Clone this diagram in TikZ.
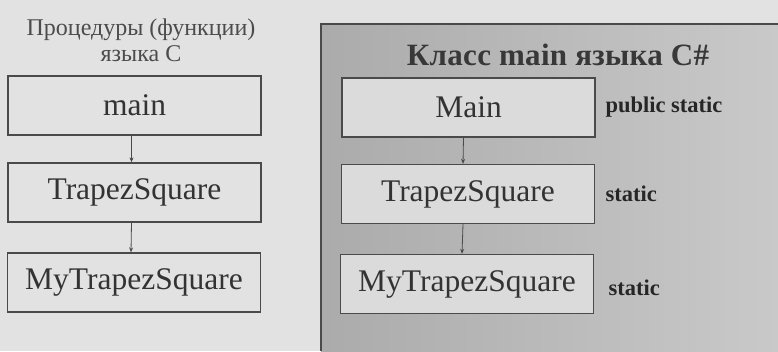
\documentclass[tikz,border=0pt]{standalone}
\usepackage{fontspec}
\setmainfont{Liberation Serif}
\usetikzlibrary{arrows.meta}
\definecolor{pagebg}{HTML}{E2E2E2}
\definecolor{panelL}{HTML}{ABABAB}
\definecolor{panelR}{HTML}{C9C9C9}
\definecolor{edge}{HTML}{4A4A4A}
\tikzset{
  fnbox/.style={draw=edge, line width=1.3pt, minimum width=253pt, minimum height=59pt,
    inner sep=0pt, font=\fontsize{31.5}{33}\selectfont, text=black!80},
  lbox/.style={fnbox, fill=pagebg},
  rbox/.style={fnbox, fill=black!14},
  mod/.style={anchor=west, font=\bfseries\fontsize{22.5}{24}\selectfont, text=black!85},
  call/.style={draw=edge, line width=0.8pt, -{Stealth[length=5pt,width=4pt]}}
}
\begin{document}
\begin{tikzpicture}[x=1pt,y=-1pt]
\useasboundingbox (0,0) rectangle (778,351);
\fill[pagebg] (0,0) rectangle (778,351);
% C# class panel
\shade[left color=panelL, right color=panelR] (321,24) rectangle (778,351);
\draw[edge, line width=1.2pt] (321,351) -- (321,24) -- (778,24);

% C procedures
\node[font=\fontsize{24}{26}\selectfont, text=black!70, align=center] (ct) at (141,40)
  {Процедуры (функции)\\языка С};
\node[lbox] (c1) at (134.5,105.5) {main};
\node[lbox] (c2) at (134.5,192.5) {TrapezSquare};
\node[lbox] (c3) at (134,282.5) {MyTrapezSquare};
\draw[call] ([xshift=-3pt]c1.south) -- ([xshift=-3pt]c2.north);
\draw[call] ([xshift=-3pt]c2.south) -- ([xshift=-3pt]c3.north);

% C# class methods
\node[font=\bfseries\fontsize{31}{33}\selectfont\addfontfeature{LetterSpace=1}, text=black!78] (cst) at (558,55) {Класс main языка C\#};
\node[rbox] (m1) at (468.5,107.5) {Main};
\node[rbox] (m2) at (468,194) {TrapezSquare};
\node[rbox] (m3) at (467,284) {MyTrapezSquare};
\draw[call] ([xshift=-5pt]m1.south) -- ([xshift=-5pt]m2.north);
\draw[call] ([xshift=-5pt]m2.south) -- ([xshift=-5pt]m3.north);
\node[mod] (a1) at (602,107) {public static};
\node[mod] (a2) at (602,194) {static};
\node[mod] (a3) at (605,288) {static};
\end{tikzpicture}
\end{document}
